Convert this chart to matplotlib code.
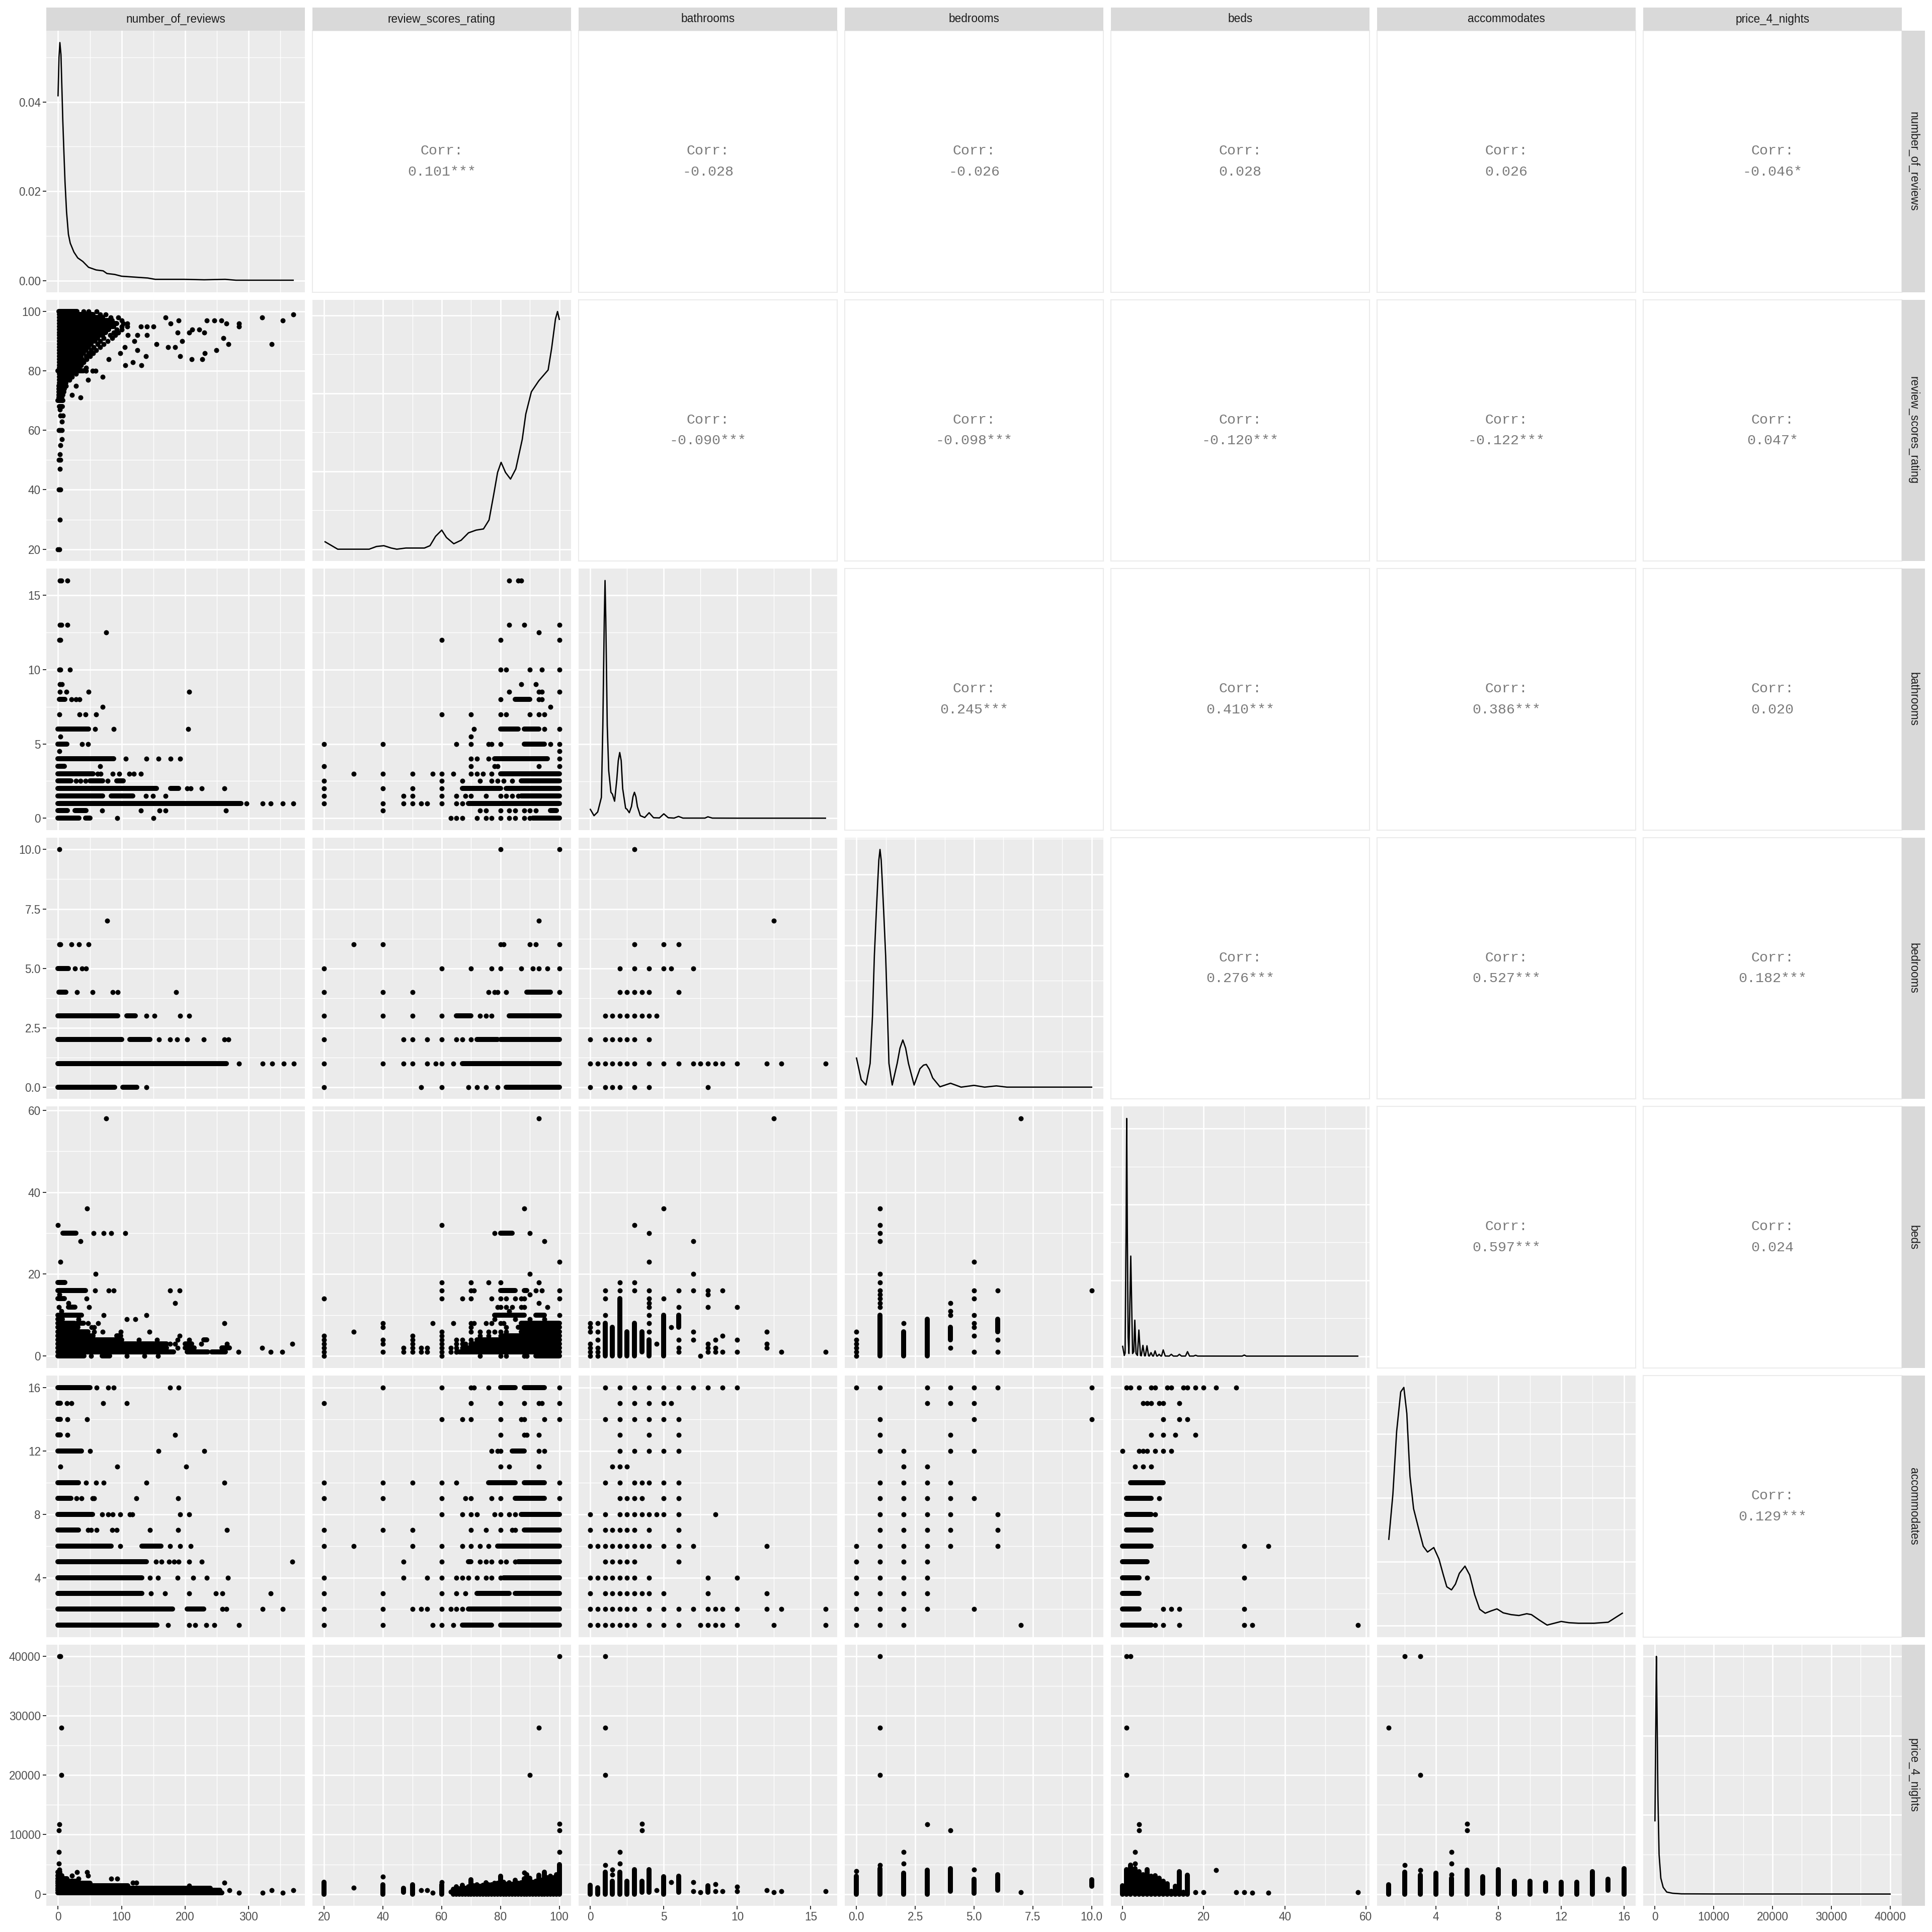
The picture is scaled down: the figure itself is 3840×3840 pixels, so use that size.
import matplotlib
matplotlib.use("Agg")
import matplotlib.pyplot as plt

plt.rcParams['font.family'] = ['Liberation Sans', 'DejaVu Sans']

# ---------------- variables, scales, tick labels ----------------
variables = ["number_of_reviews", "review_scores_rating", "bathrooms", "bedrooms",
             "beds", "accommodates", "price_4_nights"]
data_min = [0, 20, 0, 0, 0, 1, 0]
data_max = [370, 100, 16, 10, 58, 16, 40000]
breaks = [[0, 100, 200, 300], [20, 40, 60, 80, 100], [0, 5, 10, 15],
          [0, 2.5, 5, 7.5, 10], [0, 20, 40, 60], [4, 8, 12, 16],
          [0, 10000, 20000, 30000, 40000]]
break_labels = [["0", "100", "200", "300"], ["20", "40", "60", "80", "100"],
                ["0", "5", "10", "15"], ["0.0", "2.5", "5.0", "7.5", "10.0"],
                ["0", "20", "40", "60"], ["4", "8", "12", "16"],
                ["0", "10000", "20000", "30000", "40000"]]

# ---------------- correlations (upper triangle) ----------------
corr_text = {
    (0, 1): "0.101***", (0, 2): "-0.028", (0, 3): "-0.026", (0, 4): "0.028",
    (0, 5): "0.026", (0, 6): "-0.046*",
    (1, 2): "-0.090***", (1, 3): "-0.098***", (1, 4): "-0.120***",
    (1, 5): "-0.122***", (1, 6): "0.047*",
    (2, 3): "0.245***", (2, 4): "0.410***", (2, 5): "0.386***", (2, 6): "0.020",
    (3, 4): "0.276***", (3, 5): "0.527***", (3, 6): "0.182***",
    (4, 5): "0.597***", (4, 6): "0.024",
    (5, 6): "0.129***",
}

# ---------------- diagonal densities ----------------
dens_reviews_x = [0, 1.5, 2.9, 4.6, 7.5, 9.3, 11, 13.4, 16.3, 19.2, 25, 31, 39, 48, 60, 71,
                  77, 89, 100, 141, 153, 199, 230, 263, 280, 370]
dens_reviews_y = [0.0414, 0.0500, 0.0533, 0.0506, 0.0358, 0.0285, 0.022, 0.0154, 0.0104,
                  0.0084, 0.0064, 0.0051, 0.0043, 0.0030, 0.0024, 0.0022, 0.0016, 0.0014,
                  0.001, 0.0006, 0.0003, 0.0003, 0.0002, 0.0003, 0.0001, 0.0001]
dens_rating_x = [20.3, 22.8, 24.6, 35.3, 37.8, 40.3, 42.8, 44.7, 47.8, 54.1, 56, 57.9, 60,
                 61.6, 64.1, 66.6, 69.1, 71.7, 74.2, 76.1, 77.7, 79, 80.2, 81.7, 83.4, 85.2,
                 87.4, 88.6, 90.5, 93, 96.2, 97.4, 98.7, 99.4, 100]
dens_rating_y = [0.0019, 0.0008, 0.0, 0.0, 0.0007, 0.0009, 0.0003, 0.0, 0.0003, 0.0003,
                 0.0009, 0.0033, 0.0049, 0.003, 0.0014, 0.0023, 0.0042, 0.0049, 0.0052,
                 0.0075, 0.0141, 0.0197, 0.0223, 0.0197, 0.018, 0.0206, 0.0282, 0.0347,
                 0.0404, 0.0432, 0.046, 0.0516, 0.0591, 0.061, 0.059]
dens_bath_x = [0, 0.25, 0.5, 0.75, 0.85, 0.9, 0.95, 1.0, 1.05, 1.1, 1.15, 1.25, 1.4, 1.5,
               1.65, 1.8, 1.9, 2.0, 2.1, 2.2, 2.4, 2.5, 2.65, 2.8, 2.9, 3.0, 3.1, 3.2, 3.4,
               3.7, 4.0, 4.3, 4.7, 5.0, 5.3, 5.7, 6.0, 6.3, 7.8, 8.0, 8.3, 10, 16]
dens_bath_y = [0.024, 0.007, 0.017, 0.056, 0.25, 0.395, 0.54, 0.640, 0.54, 0.395, 0.25,
               0.128, 0.070, 0.065, 0.046, 0.104, 0.155, 0.177, 0.155, 0.080, 0.027,
               0.024, 0.015, 0.032, 0.058, 0.070, 0.058, 0.032, 0.007, 0.002, 0.015,
               0.0015, 0.001, 0.012, 0.0015, 0.0005, 0.005, 0.0005, 0.0005, 0.004, 0.0005,
               0.0003, 0.0003]
dens_bedrooms_x = [0, 0.2, 0.4, 0.58, 0.68, 0.76, 0.84, 0.9, 0.95, 1.0, 1.05, 1.1, 1.16,
                   1.24, 1.32, 1.38, 1.52, 1.73, 1.85, 1.97, 2.09, 2.21, 2.45, 2.7, 2.85,
                   2.97, 3.1, 3.24, 3.55, 4.0, 4.45, 5.0, 5.45, 5.95, 6.4, 10]
dens_bedrooms_y = [0.082, 0.021, 0.006, 0.067, 0.2, 0.371, 0.49, 0.574, 0.64, 0.670, 0.64,
                   0.574, 0.49, 0.371, 0.2, 0.067, 0.006, 0.067, 0.11, 0.133, 0.11, 0.067,
                   0.006, 0.052, 0.062, 0.064, 0.05, 0.026, 0.001, 0.011, 0.0, 0.005, 0.0,
                   0.0035, 0.0, 0.0]
dens_beds_x = [0, 0.4, 0.6, 0.85, 1.0, 1.15, 1.35, 1.55, 1.8, 2.0, 2.2, 2.45, 2.75, 3.0,
               3.3, 3.65, 4.0, 4.4, 4.6, 5.0, 5.4, 5.6, 6.0, 6.4, 6.6, 7.0, 7.4, 7.6, 8.0,
               8.4, 8.6, 9.0, 9.4, 9.6, 10.0, 10.5, 11.5, 12.0, 12.5, 13.5, 14.0, 14.5,
               15.5, 16.0, 16.5, 17.5, 18.0, 18.5, 29.5, 30.0, 30.5, 58]
dens_beds_y = [0.026, 0.002, 0.008, 0.33, 0.627, 0.33, 0.05, 0.007, 0.15, 0.264, 0.15,
               0.007, 0.012, 0.095, 0.007, 0.002, 0.069, 0.002, 0.001, 0.0285, 0.001,
               0.001, 0.0275, 0.001, 0.0005, 0.0095, 0.0005, 0.0005, 0.014, 0.0005,
               0.0005, 0.005, 0.0005, 0.0005, 0.0166, 0.0005, 0.0003, 0.005, 0.0003,
               0.0003, 0.005, 0.0003, 0.0003, 0.012, 0.0003, 0.0003, 0.0024, 0.0003,
               0.0002, 0.003, 0.0002, 0.0002]
dens_acc_x = [1, 1.26, 1.5, 1.76, 1.96, 2.15, 2.35, 2.58, 2.9, 3.2, 3.47, 3.87, 4.2, 4.48,
              4.7, 5.0, 5.25, 5.5, 5.86, 6.16, 6.48, 6.8, 7.15, 7.5, 7.9, 8.3, 8.8, 9.3,
              9.8, 10.1, 10.6, 11.1, 12.0, 12.5, 13.1, 14.1, 15.0, 15.4, 15.9]
dens_acc_y = [0.135, 0.2055, 0.304, 0.366, 0.373, 0.332, 0.234, 0.183, 0.152, 0.124, 0.115,
              0.122, 0.104, 0.079, 0.0605, 0.0557, 0.0647, 0.0816, 0.0929, 0.079, 0.0479,
              0.0253, 0.0191, 0.0225, 0.0259, 0.0197, 0.0169, 0.0155, 0.0183, 0.0169,
              0.0084, 0.0005, 0.0062, 0.0042, 0.0034, 0.0034, 0.005, 0.0113, 0.0191]
dens_price_x = [0, 120, 240, 360, 500, 700, 1000, 1400, 2000, 3000, 4500, 10000, 40000]
dens_price_y = [0.000185, 0.0004, 0.0006, 0.00045, 0.00025, 0.0001, 0.00004, 0.000017,
                0.000005, 0.000002, 0.0000005, 0.0000002, 0.0]
dens_breaks = [[0, 0.02, 0.04], [0, 0.02, 0.04, 0.06], [0, 0.2, 0.4, 0.6],
               [0, 0.2, 0.4, 0.6], [0, 0.2, 0.4, 0.6], [0, 0.1, 0.2, 0.3],
               [0, 0.0002, 0.0004, 0.0006]]
dens_labels_first = ["0.00", "0.02", "0.04"]

# ---------------- scatter panels ----------------
# dict: level -> items ; number = one point, (a, b) = dense run of overlapping points
rating_reviews_rows = {
    100: [(1, 30), 40, 48, 61], 99: [(2, 55), 66, 75, 370], 98: [(2, 70), 83, 95, 169, 321],
    97: [(2, 85), 100, 190, 234, 246, 257, 354], 96: [(2, 92), 103, 109, 177, 265, 285],
    95: [(2, 88), 100, 109, 130, 140, 150, 285], 94: [(2, 80), 92, 100, 211, 222],
    93: [(2, 75), 88, 95, 188, 206, 230], 92: [(2, 70), 82, 90, 110, 125, 140],
    91: [(2, 62), 72, 85, 260], 90: [(2, 58), 66, 78, 120, 195],
    89: [(2, 52), 62, 72, 155, 268, 336], 88: [(2, 48), 56, 66, 105, 173, 184],
    87: [(2, 44), 52, 60, 125, 249], 86: [(2, 40), 48, 55, 98, 231],
    85: [(2, 36), 44, 50, 138, 192], 84: [(2, 32), 38, 45, 80, 210, 227],
    83: [(2, 28), 34, 40, 118], 82: [(2, 26), 30, 36, 106, 131], 81: [(2, 24), 28, 33, 44],
    80: [(0, 40), 44, 54, 59], 79: [(2, 22), 28], 78: [(2, 18), 22, 70],
    77: [(2, 15), 18, 47], 76: [(2, 12)], 75: [(1, 10), 12, 28], 74: [(1, 10)],
    73: [(1, 9)], 72: [(1, 8), 22], 71: [(1, 6), 35], 70: [(0, 8)], 68: [(2, 7)], 67: [3],
    65: [4, 8], 63: [6], 60: [1, 4, 6], 57: [6], 55: [4], 52: [3], 50: [1, 4],
    47: [3], 40: [1, 4], 30: [3], 20: [0, 2],
}
bath_reviews_rows = {
    16: [3, 5, 15], 13: [3, 5, 15], 12.5: [76], 12: [2, 4], 10: [2, 4, 19], 9: [3, 6],
    8.5: [3, 13, 48, 206], 8: [(2, 11), 21, 28, 34], 7.5: [70], 7: [2, 34, 43, 60],
    6: [(0, 48), 58, 88, 205], 5.5: [4], 5: [(0, 14), 38, 47], 4.5: [2],
    4: [(0, 88), 107, 139, 158, 177, 192], 3.5: [(0, 10), 66],
    3: [(0, 55), 62, 67, 86, 96, 112, 119, 130],
    2.5: [(0, 20), 28, 35, 43, (50, 70), 78, (92, 103)],
    2: [(0, 155), (177, 190), 203, 209, 226, 262],
    1.5: [(0, 70), (84, 118), 138, 149, 169],
    1: [(0, 288), 297, 322, 335, 354, 370],
    0.5: [(0, 15), (27, 44), 69, 130, 160, 169, 264],
    0: [(0, 33), (43, 50), 93, 150],
}
bath_rating_rows = {
    16: [83, 86, 87], 13: [83, 88, 100], 12.5: [93], 12: [60, 80, 100],
    10: [80, 82, 90, 94, 100], 9: [87, 92], 8.5: [83, 93, 94, 100],
    8: [80, (85, 90), 93, 94], 7.5: [97], 7: [60, 70, 80, 82, 90, 93, 95],
    6: [71, (80, 86), (88, 93), 95, 100], 5.5: [70],
    5: [20, 40, 65, 70, 76, 77, 80, (88, 95), 97, 100], 4.5: [100],
    4: [70, 72, 76, (78, 96), 100], 3.5: [20, 70, 78, 79, 93, 100],
    3: [30, 40, 50, 57, 60, 64, 70, 72, 74, 77, (80, 100)],
    2.5: [20, 60, 67, 73, 77, 79, 81, 84, (87, 100)],
    2: [20, 40, 50, 60, (67, 80), (82, 100)],
    1.5: [20, 47, 50, 60, 65, 68, 70, 75, 80, 82, 84, 86, (87, 100)],
    1: [20, 40, 47, 50, 53, 55, 60, 65, 67, (69, 100)],
    0.5: [40, 73, 75, 80, 83, 85, 88, 90, 92, (97, 99)],
    0: [63, 65, 67, 72, 75, 77, 80, 83, 85, 88, 90, (91, 100)],
}
bedrooms_reviews_rows = {
    10: [2], 7: [77], 6: [2, 4, 21, 33, 48], 5: [(0, 16), 27, 38, 44],
    4: [(1, 12), 30, 54, 86, 94, 186],
    3: [(0, 94), (108, 122), 139, 152, 192, 206],
    2: [(0, 100), (113, 145), 159, 176, 187, 203, 229, 262, 268],
    1: [(0, 265), 285, 322, 337, 355, 371],
    0: [(0, 89), (102, 124), 139],
}
bedrooms_rating_rows = {
    10: [80, 100], 7: [93], 6: [30, 40, 80, 81, 90, 92, 100],
    5: [20, 60, 70, 77, 80, 87, 91, 93, 96, 100],
    4: [20, 40, 50, 76, 78, 79, 82, (89, 97), 100],
    3: [20, 40, 50, 60, (65, 70), 73, 75, 77, (83, 100)],
    2: [20, 47, 50, 55, 60, 65, 67, 70, (72, 79), (80, 100)],
    1: [20, 40, 47, 50, 55, 58, 60, 64, (67, 100)],
    0: [20, 53, 60, 69, 72, 75, 79, (82, 100)],
}
bedrooms_bath_rows = {
    10: [3], 7: [12.5], 6: [3, 5, 6], 5: [2, 3, 4, 5, 5.5, 7], 4: [2, 2.5, 3, 3.5, 4, 6],
    3: [1, 1.5, 2, 2.5, 3, 3.5, 4, 4.5], 2: [0, 1, 1.5, 2, 2.5, 3, 4],
    1: [0, 0.5, 1, 1.5, 2, 2.5, 3, 4, 5, 6, 7, 7.5, 8, 8.5, 9, 10, 12, 13, 16],
    0: [0, 1, 1.5, 2, 3, 4, 8],
}
beds_reviews_rows = {
    58: [76], 36: [46], 32: [0], 30: [(8, 28), 56, 72, 84, 106], 28: [35], 23: [4],
    20: [59], 18: [(0, 11)], 16: [(0, 43), 58, 80, 88, 176, 191], 15: [2],
    14: [(0, 10), 45], 13: [16, 184], 12: [1, (16, 27), 49], 11: [5],
    10: [(0, 37), 72, 139], 9: [(0, 7), 32, 108, 122],
    8: [(0, 26), (30, 40), 47, 63, 262], 7: [(0, 31), 53, 57],
    6: [(0, 47), 57, 70, 99, 144], 5: [(0, 55), (92, 99), 191],
    4: [(0, 100), 127, 156, 188, 206, (229, 234)],
    3: [(0, 171), 176, 184, (200, 210), 225, 266, 369],
    2: [(0, 171), 188, (200, 214), (258, 270), 321],
    1: [(0, 182), (203, 236), (242, 263), 284, 335, 353],
    0: [(0, 41), 52, (69, 81), 108, 136, 157],
}
beds_rating_rows = {
    58: [93], 36: [88], 32: [60], 30: [78, (80, 84), 90], 28: [95], 23: [100], 20: [90],
    18: [60, 70, 76, 80, 93], 16: [60, 70, 71, (80, 85), (88, 89), 92, 94, 100],
    15: [90], 14: [20, 60, 67, 70, 77, 80, 82, 85, 87, 88, 100], 13: [93],
    12: [79, 80, 82, 84, 87, 88, 96], 11: [83], 10: [(78, 88), (92, 95), 100],
    9: [78, 85, 90, 95], 8: [40, 57, 64, 70, 71, 75, 77, 80, 81, (87, 100)],
    7: [40, 70, 82, (86, 100)], 6: [30, 60, 70, 73, 76, 78, 80, 82, (87, 100)],
    5: [20, 50, 60, 73, 76, 80, (81, 100)], 4: [20, 40, 50, 60, 65, 67, 70, (72, 100)],
    3: [20, 40, 50, 60, 65, 67, 68, (70, 100)],
    2: [20, 47, 50, 53, 55, 60, 63, 65, 67, (68, 100)],
    1: [20, 40, 47, 50, 53, 55, 60, 63, 65, (66, 100)],
    0: [20, 60, 73, 80, 82, 88, 89, (92, 100)],
}
beds_bath_cols = {
    0: [0, 1, 2, 3, 6, 7, 8], 0.5: [0, 1, 2, 4, 6, 8], 1: [(0, 8), 10, 14, 16],
    1.5: [(0, 7)], 2: [(0, 14), 16, 18], 2.5: [(0, 6)], 3: [(0, 8), 16, 18, 32],
    3.5: [(1, 6)], 4: [(0, 4), 6, 8, 10, 12, 13, 14, 16, 23, 30], 4.5: [3],
    5: [(0, 10), 14, 36], 5.5: [7], 6: [1, 2, 4, (7, 10), 12, 16], 7: [4, 6, 16, 20, 28],
    7.5: [0], 8: [1, 2, 3, 12, 15, 16], 8.5: [1, 2, 4], 9: [1, 5, 16], 10: [1, 4, 12],
    12: [2, 3, 6], 12.5: [58], 13: [1], 16: [1],
}
beds_bedrooms_cols = {
    0: [0, 1, 2, 3, 4, 6], 1: [(0, 10), 12, 13, 14, 15, 16, 18, 20, 28, 30, 32, 36],
    2: [(0, 6), 8], 3: [(0, 9)], 4: [2, (4, 7), 10, 11, 13],
    5: [1, 5, 7, 8, 10, 14, 16, 23], 6: [1, 4, (6, 9), 16], 7: [58], 10: [16],
}
acc_reviews_rows = {
    16: [(0, 50), 61, 79, 88, 176, 190], 15: [(0, 4), 14, 21, 71, 108],
    14: [(0, 4), 15, 46], 13: [(0, 4), 15, 184], 12: [(0, 37), 50, 158, 230],
    11: [4, 93, 202], 10: [(0, 32), 44, 60, 72, 139, 262],
    9: [(0, 20), 29, 37, 54, 57, 123, 189],
    8: [(0, 54), 69, 79, 86, 98, 113, 117, 192, 206],
    7: [(0, 32), 47, 52, 61, 85, 92, 145, 189, 266],
    6: [(0, 84), 98, (132, 162), 176, 192, 209],
    5: [(0, 139), 154, 163, 175, 183, 190, 206, 226, 369],
    4: [(0, 132), 145, 157, 188, 213, 234, 267],
    3: [(0, 132), 146, 168, 206, 248, 259, 335],
    2: [(0, 180), (203, 229), 259, 265, 322, 354],
    1: [(0, 156), 173, 206, 216, 233, 246, 285],
}
acc_rating_rows = {
    16: [40, 60, 70, 71, 76, (80, 85), (88, 95), 100], 15: [20, 70, 80, 88, 93, 94, 100],
    14: [60, 67, 70, 80, 87, 88, 95, 100], 13: [80, 88, 89, 93],
    12: [77, 79, 80, (84, 88), 93, 95], 11: [80, 83, 93],
    10: [20, 40, 50, 60, 65, (76, 85), (88, 95), 100],
    9: [20, 40, 60, 68, 70, 77, 80, (85, 95), 100],
    8: [60, 67, 70, 72, 78, 80, 83, 85, (87, 100)],
    7: [20, 40, 50, 70, 75, 80, 84, 85, (88, 100)],
    6: [20, 30, 50, 60, 67, 70, 73, 76, (79, 100)],
    5: [47, 60, (69, 70), 73, 75, 77, 80, 82, 85, (86, 100)],
    4: [20, 47, 55, 60, 65, 67, 69, 72, 75, 77, 80, (81, 100)],
    3: [20, 40, 60, 65, 68, (72, 83), (85, 100)],
    2: [20, 40, 50, 53, 55, 60, 63, 65, 67, (69, 100)],
    1: [20, 40, 57, 60, 64, (67, 77), (80, 100)],
}
acc_bath_rows = {
    16: [1, 2, 3, 4, 5, 6, 7, 8, 9, 10], 15: [2, 3, 4, 5, 5.5], 14: [1, 2, 3, 4, 5, 6],
    13: [2, 4, 6], 12: [2, 3, 4, 5, 6], 11: [1.5, 2, 2.5], 10: [1, 2, 3, 3.5, 4, 5, 6],
    9: [2, 2.5, 3, 3.5, 5, 6], 8: [0, 1, 2, 2.5, 3, 3.5, 4, 4.5, 5, 6, 8.5],
    7: [0, 1, 1.5, 2, 2.5, 3, 4, 6],
    6: [0, 0.5, 1, 1.5, 2, 2.5, 3, 3.5, 4, 5, 6, 7, 12], 5: [1, 1.5, 2, 2.5, 3, 6],
    4: [0, 0.5, 1, 1.5, 2, 2.5, 3, 4, 8, 10], 3: [0, 1, 1.5, 2, 2.5, 3, 3.5, 4, 5, 8, 12],
    2: [0, 0.5, 1, 1.5, 2, 2.5, 3, 4, 5, 6, 7, 8, 8.5, 9, 10, 12, 13, 16],
    1: [0, 0.5, 1, 1.5, 2, 2.5, 3, 4, 5, 6, 7.5, 8, 8.5, 9, 10, 12.5, 16],
}
acc_bedrooms_rows = {
    16: [0, 1, 3, 4, 5, 6, 10], 15: [3, 4, 5], 14: [1, 5, 10], 13: [1, 4], 12: [1, 2, 4, 5],
    11: [2, 3], 10: [1, 2, 3, 4], 9: [1, 2, 3, 4, 5], 8: [1, 2, 3, 4, 6],
    7: [1, 2, 3, 4, 6], 6: [0, 1, 2, 3, 4, 6], 5: [0, 1, 2, 3], 4: [0, 1, 2, 3],
    3: [0, 1, 2, 3], 2: [0, 1, 2, 3, 5], 1: [0, 1, 2, 7],
}
acc_beds_rows = {
    16: [1, 2, 4, 7, 8, 11, 12, 15, 16, 18, 20, 23, 28], 15: [5, 6, 7, 9, 10, 14],
    14: [10, 14, 16], 13: [7, 10, 13, 18], 12: [0, 4, 5, 6, 8, 10, 12], 11: [3, 5, 7],
    10: [(2, 10)], 9: [(1, 7), 9], 8: [(1, 7), 8], 7: [(1, 7)], 6: [(0, 7), 30, 36],
    5: [(0, 6)], 4: [(0, 4), 6, 30], 3: [(0, 4)], 2: [(0, 4), 10, 12, 14, 30],
    1: [(0, 7), 8, 10, 14, 30, 32, 58],
}
price_reviews_rows = {
    40000: [2, 4], 28000: [5], 20000: [5], 11760: [2], 10740: [1], 7100: [1], 5130: [1],
    4140: [2], 3700: [(0, 3), 30, 46], 3100: [(0, 6), 22, 47], 2600: [(0, 14), 32, 84, 93],
    2200: [(0, 30)], 1950: [118, 123, 262], 1800: [(0, 50)], 1400: [(0, 110), 206],
    1000: [(0, 240)], 600: [(0, 255), 270, 336, 370], 200: [(0, 258), 285, 322, 354],
}
price_rating_cols = {
    20: [(0, 2000)], 30: [1040], 40: [(0, 1600), 2900], 47: [(300, 1000)], 50: [(0, 1600)],
    53: [650], 55: [650], 57: [200], 60: [(0, 1600), 2000], 63: [350], 64: [(0, 800)],
    65: [(0, 1200)], 66: [(0, 900)], 67: [(0, 1500)], 68: [(0, 1000)], 69: [(0, 1200)],
    70: [(0, 2400)], 71: [(0, 1400)], 72: [(0, 1600)], 73: [(0, 1300)], 74: [(0, 1500)],
    75: [(0, 1900)], 76: [(0, 1600)], 77: [(0, 1600)], 78: [(0, 1800)], 79: [(0, 1800)],
    80: [(0, 3000)], 81: [(0, 2000)], 82: [(0, 1700)], 83: [(0, 1900)], 84: [(0, 1700)],
    85: [(0, 2300)], 86: [(0, 1800)], 87: [(0, 1900)], 88: [(0, 2600), 3640],
    89: [(0, 3300)], 90: [(0, 2700), 20000], 91: [(0, 2000)], 92: [(0, 2200)],
    93: [(0, 3150), 28000], 94: [(0, 2300)], 95: [(0, 3700)], 96: [(0, 2800)],
    97: [(0, 3000)], 98: [(0, 2800)], 99: [(0, 3300)],
    100: [(0, 5000), 7100, 10700, 11800, 40000],
}
price_bath_cols = {
    0: [(0, 1500)], 0.5: [(0, 1100)], 1: [(0, 3650), 4850, 20000, 28000, 40000],
    1.5: [(0, 2200), 3300, 4100], 2: [(0, 3650), 5100, 7060], 2.5: [(0, 2200)],
    3: [(0, 4100)], 3.5: [(300, 2200), 10750, 11800], 4: [(300, 4100)], 4.5: [600],
    5: [(0, 2900)], 5.5: [2000], 6: [(300, 3000)], 7: [450, 2000], 7.5: [300],
    8: [(300, 1400)], 8.5: [450, 1650], 9: [450], 10: [450, 1270], 12: [600],
    12.5: [300], 13: [450], 16: [450],
}
price_bedrooms_cols = {
    0: [(0, 3000), 3900], 1: [(0, 4300), 4850, 20000, 28000, 40000],
    2: [(0, 3500), 5100, 7060], 3: [(0, 4000), 11700], 4: [(500, 4300), 10750],
    5: [(150, 2500), 4100], 6: [(600, 3300)], 7: [300], 10: [(1300, 2400)],
}
price_beds_cols = {
    0: [(0, 1400)], 1: [(0, 4100), 20000, 28000, 40000], 2: [(0, 4900), 40000],
    3: [(0, 4300), 5100, 7060], 4: [(0, 3800), 10750, 11700], 5: [(0, 3300)],
    6: [(0, 4100)], 7: [(0, 3000)], 8: [(0, 3100)], 9: [(0, 2700)], 10: [(0, 2200)],
    11: [(0, 1750)], 12: [(0, 500)], 13: [(0, 1300)], 14: [(0, 3800)], 15: [(0, 300)],
    16: [(0, 3200)], 18: [300], 20: [300], 23: [4000], 28: [300], 30: [300], 32: [200],
    36: [200], 58: [300],
}
price_acc_cols = {
    1: [(0, 1600), 28000], 2: [(0, 3650), 4850, 40000], 3: [(0, 3200), 4000, 20000, 40000],
    4: [(0, 3500)], 5: [(0, 2700), 3300, 5100, 7060], 6: [(0, 4000), 10750, 11800],
    7: [(150, 2900)], 8: [(0, 4100)], 9: [(0, 2200)], 10: [(0, 2200)], 11: [(500, 1900)],
    12: [(0, 2000)], 13: [(0, 2000)], 14: [(0, 3800)], 15: [(600, 2500)], 16: [(0, 4300)],
}

panels = {
    (1, 0): (rating_reviews_rows, 'y'),
    (2, 0): (bath_reviews_rows, 'y'), (2, 1): (bath_rating_rows, 'y'),
    (3, 0): (bedrooms_reviews_rows, 'y'), (3, 1): (bedrooms_rating_rows, 'y'),
    (3, 2): (bedrooms_bath_rows, 'y'),
    (4, 0): (beds_reviews_rows, 'y'), (4, 1): (beds_rating_rows, 'y'),
    (4, 2): (beds_bath_cols, 'x'), (4, 3): (beds_bedrooms_cols, 'x'),
    (5, 0): (acc_reviews_rows, 'y'), (5, 1): (acc_rating_rows, 'y'),
    (5, 2): (acc_bath_rows, 'y'), (5, 3): (acc_bedrooms_rows, 'y'),
    (5, 4): (acc_beds_rows, 'y'),
    (6, 0): (price_reviews_rows, 'y'), (6, 1): (price_rating_cols, 'x'),
    (6, 2): (price_bath_cols, 'x'), (6, 3): (price_bedrooms_cols, 'x'),
    (6, 4): (price_beds_cols, 'x'), (6, 5): (price_acc_cols, 'x'),
}
densities = [(dens_reviews_x, dens_reviews_y), (dens_rating_x, dens_rating_y),
             (dens_bath_x, dens_bath_y), (dens_bedrooms_x, dens_bedrooms_y),
             (dens_beds_x, dens_beds_y), (dens_acc_x, dens_acc_y),
             (dens_price_x, dens_price_y)]

# ---------------- layout / style ----------------
FIG = 3840.0
COL_L0, COL_STEP, COL_W = 92, 529, 514
ROW_T0, ROW_STEP, ROW_H = 61, 534.6, 519.6
STRIP = 46
PANEL_BG = "#EBEBEB"
STRIP_BG = "#D9D9D9"
TICK_FS = 16.3
STRIP_FS = 16.3
CORR_FS = 20.3
DOT = 7.2  # point diameter (pt)


def expand(lo, hi):
    r = hi - lo
    return lo - 0.05 * r, hi + 0.05 * r


def minor_of(major, lo, hi):
    step = major[1] - major[0]
    c = [major[0] - step / 2] + [(a + b) / 2 for a, b in zip(major[:-1], major[1:])] + \
        [major[-1] + step / 2]
    return [v for v in c if lo <= v <= hi]


def rect(r, c):
    left = COL_L0 + c * COL_STEP
    top = ROW_T0 + r * ROW_STEP
    return [left / FIG, 1 - (top + ROW_H) / FIG, COL_W / FIG, ROW_H / FIG]


def draw_levels(ax, levels, key_axis):
    xs, ys = [], []
    for lvl, items in levels.items():
        for it in items:
            if isinstance(it, tuple):
                a, b = it
                if key_axis == 'y':
                    ax.plot([a, b], [lvl, lvl], color='black', lw=DOT,
                            solid_capstyle='round', zorder=3)
                else:
                    ax.plot([lvl, lvl], [a, b], color='black', lw=DOT,
                            solid_capstyle='round', zorder=3)
            else:
                if key_axis == 'y':
                    xs.append(it); ys.append(lvl)
                else:
                    xs.append(lvl); ys.append(it)
    ax.scatter(xs, ys, s=DOT ** 2, c='black', linewidths=0, zorder=3)


fig = plt.figure(figsize=(38.4, 38.4), dpi=100)
fig.patch.set_facecolor('white')

xlims = [expand(data_min[i], data_max[i]) for i in range(7)]

for r in range(7):
    for c in range(7):
        ax = fig.add_axes(rect(r, c))
        if r < c:
            ax.set_facecolor('white')
            ax.set_xticks([]); ax.set_yticks([])
            for s in ax.spines.values():
                s.set_color('#EBEBEB'); s.set_linewidth(1.5)
            ax.text(0.5, 0.54, "Corr:", transform=ax.transAxes, ha='center', va='center',
                    family=['Liberation Mono', 'DejaVu Sans Mono'], fontsize=CORR_FS,
                    color='#7a7a7a')
            ax.text(0.5, 0.46, corr_text[(r, c)], transform=ax.transAxes, ha='center',
                    va='center', family=['Liberation Mono', 'DejaVu Sans Mono'],
                    fontsize=CORR_FS, color='#7a7a7a')
            continue
        ax.set_facecolor(PANEL_BG)
        for s in ax.spines.values():
            s.set_visible(False)
        xlo, xhi = xlims[c]
        ax.set_xlim(xlo, xhi)
        ax.set_xticks(breaks[c])
        ax.set_xticks(minor_of(breaks[c], xlo, xhi), minor=True)
        if r == c:
            dx, dy = densities[r]
            ylo, yhi = expand(min(dy), max(dy))
            ax.set_ylim(ylo, yhi)
            yb = dens_breaks[r]
            ax.set_yticks(yb)
            ax.set_yticks(minor_of(yb, ylo, yhi), minor=True)
            ax.plot(dx, dy, color='black', lw=1.9, zorder=3)
            ylabels = dens_labels_first if r == 0 else None
        else:
            ylo, yhi = xlims[r]
            ax.set_ylim(ylo, yhi)
            ax.set_yticks(breaks[r])
            ax.set_yticks(minor_of(breaks[r], ylo, yhi), minor=True)
            levels, key_axis = panels[(r, c)]
            draw_levels(ax, levels, key_axis)
            ylabels = break_labels[r]
        ax.set_axisbelow(True)
        ax.grid(which='major', color='white', lw=2.0)
        ax.grid(which='minor', color='white', lw=1.0)
        ax.tick_params(which='minor', length=0)
        if c == 0:
            ax.set_yticklabels(ylabels)
            ax.tick_params(axis='y', which='major', length=5, width=1.4, color='#333333',
                           labelsize=TICK_FS, labelcolor='#4D4D4D', pad=3)
        else:
            ax.tick_params(axis='y', which='major', length=0, labelleft=False)
        if r == 6:
            ax.set_xticklabels(break_labels[c])
            ax.tick_params(axis='x', which='major', length=5, width=1.4, color='#333333',
                           labelsize=TICK_FS, labelcolor='#4D4D4D', pad=3)
        else:
            ax.tick_params(axis='x', which='major', length=0, labelbottom=False)

# strips
for c in range(7):
    left = COL_L0 + c * COL_STEP
    sax = fig.add_axes([left / FIG, 1 - ROW_T0 / FIG, COL_W / FIG, STRIP / FIG])
    sax.set_facecolor(STRIP_BG)
    sax.set_xticks([]); sax.set_yticks([])
    for s in sax.spines.values():
        s.set_visible(False)
    sax.text(0.5, 0.5, variables[c], ha='center', va='center', fontsize=STRIP_FS,
             color='#1A1A1A', transform=sax.transAxes)
for r in range(7):
    top = ROW_T0 + r * ROW_STEP
    left = COL_L0 + 6 * COL_STEP + COL_W
    sax = fig.add_axes([left / FIG, 1 - (top + ROW_H) / FIG, STRIP / FIG, ROW_H / FIG])
    sax.set_facecolor(STRIP_BG)
    sax.set_xticks([]); sax.set_yticks([])
    for s in sax.spines.values():
        s.set_visible(False)
    sax.text(0.5, 0.5, variables[r], ha='center', va='center', fontsize=STRIP_FS,
             color='#1A1A1A', rotation=-90, transform=sax.transAxes)

fig.savefig("out.png", dpi=100, facecolor='white')
